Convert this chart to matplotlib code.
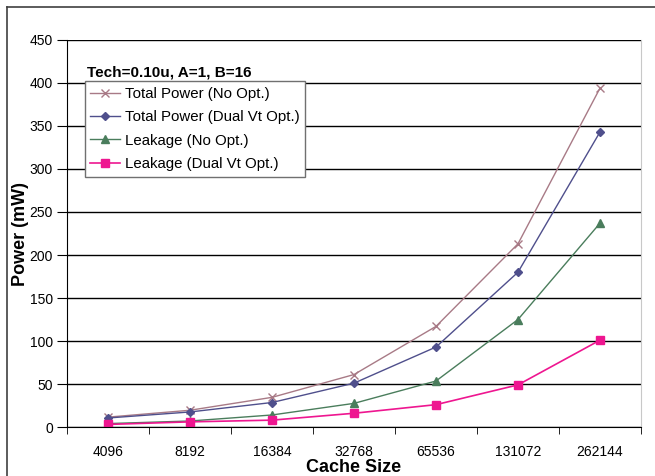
import numpy as np
import matplotlib
matplotlib.use('Agg')
from matplotlib import pyplot as plt
from matplotlib.lines import Line2D

plt.rcParams['font.family'] = ['Liberation Sans', 'DejaVu Sans']

# Data
cacheSizes = ['4096', '8192', '16384', '32768', '65536', '131072', '262144']
totalNoOpt = [11.5, 19.5, 34.5, 61, 117, 213, 394]
totalDualVt = [10.5, 17.5, 28.5, 51, 93, 180, 343]
leakNoOpt = [4, 7, 14, 27.5, 53.5, 125, 237]
leakDualVt = [3, 6, 8, 16, 26, 49, 101]

x = np.arange(len(cacheSizes))

fig = plt.figure(figsize=(6.55, 4.76), dpi=100)
ax = fig.add_axes([0.1023, 0.1029, 0.8763, 0.8131])

# outer chart border (only top and left edges are visible)
fig.add_artist(Line2D([7 / 655, 7 / 655], [0, 1 - 7 / 476], transform=fig.transFigure,
                      color='#404040', lw=1.2))
fig.add_artist(Line2D([7 / 655, 1], [1 - 7 / 476, 1 - 7 / 476], transform=fig.transFigure,
                      color='#404040', lw=1.2))

ax.plot(x, totalNoOpt, color='#a87a86', lw=1, marker='x', ms=5.5, mew=1,
        label='Total Power (No Opt.)')
ax.plot(x, totalDualVt, color='#4f4f8c', lw=1, marker='D', ms=4,
        label='Total Power (Dual Vt Opt.)')
ax.plot(x, leakNoOpt, color='#4a7d5c', lw=1, marker='^', ms=6,
        label='Leakage (No Opt.)')
ax.plot(x, leakDualVt, color='#ee1690', lw=1.2, marker='s', ms=6,
        label='Leakage (Dual Vt Opt.)')

ax.set_xlim(-0.5, len(cacheSizes) - 0.5)
ax.set_ylim(0, 450)
ax.set_yticks(np.arange(0, 451, 50))
ax.yaxis.grid(True, color='black', lw=1)
ax.set_axisbelow(True)

ax.set_xticks(x)
ax.set_xticklabels(cacheSizes, fontsize=10)
ax.set_xticks(np.arange(-0.5, len(cacheSizes)), minor=True)
ax.tick_params(axis='x', which='major', length=0, pad=13)
ax.tick_params(axis='x', which='minor', length=5, color='black')
ax.tick_params(axis='y', labelsize=10, length=7, pad=3)

ax.spines['top'].set_visible(False)
ax.spines['right'].set_color('#c8c8c8')

ax.set_xlabel('Cache Size', fontsize=13, fontweight='bold', labelpad=0)
ax.set_ylabel('Power (mW)', fontsize=13, fontweight='bold', labelpad=0.5)

ax.text(0.035, 0.917, 'Tech=0.10u, A=1, B=16', transform=ax.transAxes,
        fontsize=11, fontweight='bold', va='center', ha='left')

leg = ax.legend(loc='upper left', bbox_to_anchor=(0.031, 0.893), fontsize=10.8,
                frameon=True, fancybox=False, edgecolor='#707070', framealpha=1,
                handlelength=2.0, labelspacing=0.62, borderpad=0.38,
                handletextpad=0.3, borderaxespad=0)
leg.get_frame().set_linewidth(1)

fig.savefig('out.png', dpi=100)
